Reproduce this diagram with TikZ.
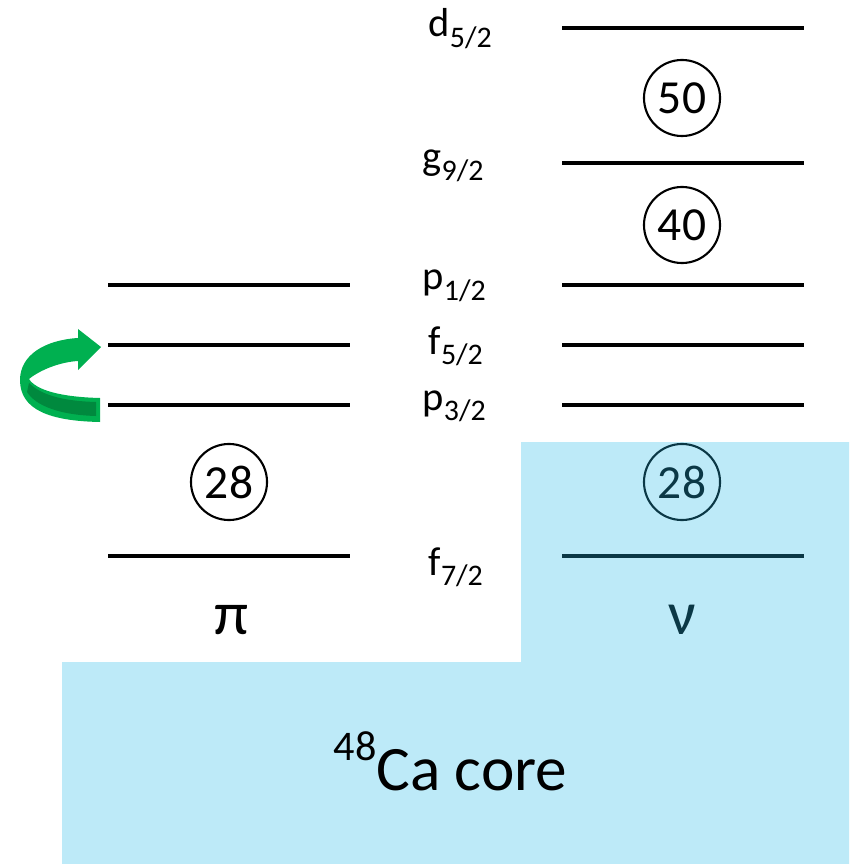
\documentclass[tikz,border=0pt]{standalone}
\usepackage{fontspec}
\setmainfont{Carlito}
\definecolor{overlayblue}{RGB}{37,187,233}
\definecolor{arrgreen}{RGB}{0,176,80}
\definecolor{arrdark}{RGB}{0,137,62}
\tikzset{
  level/.style={line width=0.95pt},
  magic/.style={circle,draw,line width=0.6pt,minimum size=0.76cm,inner sep=0pt,font=\fontsize{13.5}{15}\selectfont},
  orb/.style={anchor=base west,inner sep=0pt,font=\fontsize{11.5}{14}\selectfont},
  side/.style={inner sep=0pt,font=\fontsize{17.5}{20}\selectfont}
}
\newcommand{\orbsub}[1]{\raisebox{-3pt}{\fontsize{8.5}{10}\selectfont #1}}
\begin{document}
\begin{tikzpicture}[x=0.01cm,y=-0.01cm]
\useasboundingbox (0,0) rectangle (858,864);
% proton levels
\foreach \yy in {285,345,405,556} \draw[level] (108,\yy) -- (350,\yy);
% neutron levels
\foreach \yy in {28,163,285,345,405,556} \draw[level] (562,\yy) -- (804,\yy);
% orbital labels
\node[orb] (d52) at (428,37) {d\orbsub{5/2}};
\node[orb] (g92) at (422,170) {g\orbsub{9/2}};
\node[orb] (p12) at (422,290) {p\orbsub{1/2}};
\node[orb] (f52) at (428,354) {f\orbsub{5/2}};
\node[orb] (p32) at (422,410) {p\orbsub{3/2}};
\node[orb] (f72) at (428,575) {f\orbsub{7/2}};
% magic numbers
\node[magic] (m50) at (682,98) {50};
\node[magic] (m40) at (682,225) {40};
\node[magic] (m28p) at (229,482) {28};
\node[magic] (m28n) at (682,482) {28};
% pi and nu
\node[side] (pi) at (232,620) {π};
\node[side] (nu) at (682,620) {ν};
% green arrow
\fill[arrgreen] (101,347) -- (78,329) -- (78,338)
  .. controls (45,340) and (20,355) .. (20,380)
  .. controls (20,410) and (50,421) .. (100,422)
  -- (100,398)
  .. controls (60,397) and (36,390) .. (29,379)
  .. controls (40,370) and (60,362) .. (78,361)
  -- (78,370) -- cycle;
\fill[arrdark] (29,383) .. controls (40,394) and (60,401) .. (96,402)
  -- (96,416) .. controls (60,415) and (36,406) .. (27,392) -- cycle;
% core overlay
\fill[overlayblue,opacity=0.3] (521,442) -- (849,442) -- (849,864) -- (62,864) -- (62,662) -- (521,662) -- cycle;
\node[inner sep=0pt,anchor=base west,font=\fontsize{18}{20}\selectfont] (core) at (333,790) {\raisebox{8.4pt}{\fontsize{12}{14}\selectfont 48}Ca core};
\end{tikzpicture}
\end{document}
